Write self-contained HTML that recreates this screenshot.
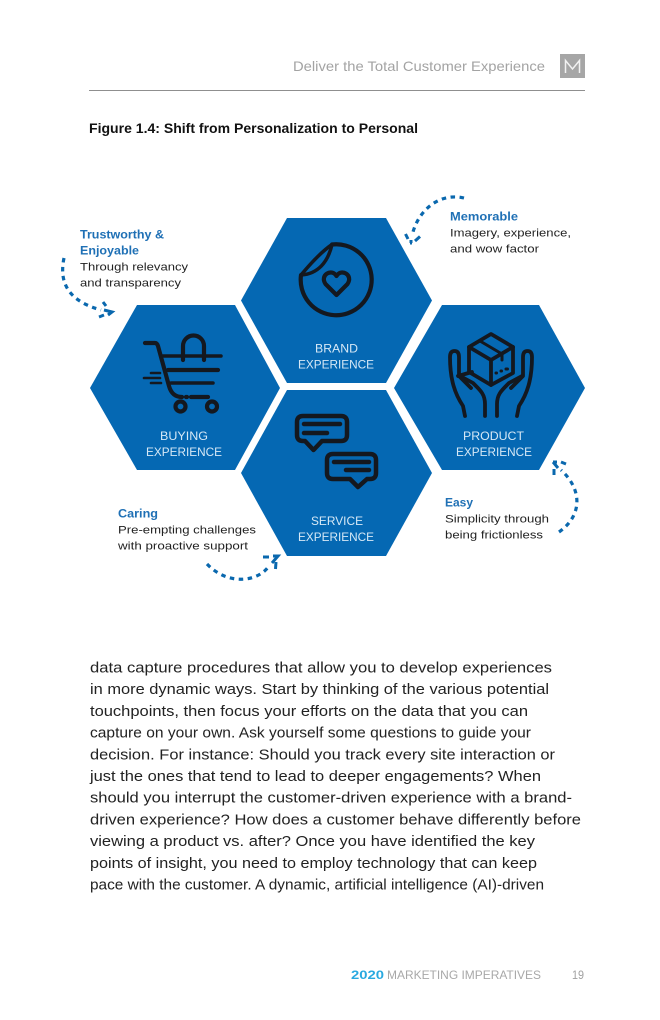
<!DOCTYPE html>
<html><head><meta charset="utf-8">
<style>
html,body{margin:0;padding:0;background:#fff;width:660px;height:1020px;overflow:hidden}
svg{display:block}
text{font-family:"Liberation Sans",sans-serif}
.lb{font-size:11.5px;fill:#d6e8f6}
.h{font-size:11.5px;font-weight:bold;fill:#1f70b5}
.t{font-size:11px;fill:#222}
.b{font-size:15px;fill:#222}
.ic{fill:none;stroke:#14181f;stroke-width:4.2;stroke-linecap:round;stroke-linejoin:round}
.d{fill:none;stroke:#0a68ae;stroke-width:3.2;stroke-dasharray:4.5 4.5}
.a{fill:none;stroke:#0a68ae;stroke-width:3}
</style></head><body>
<svg width="660" height="1020" viewBox="0 0 660 1020" xmlns="http://www.w3.org/2000/svg">
<rect width="660" height="1020" fill="#fff"/>
<text x="293" y="71" font-size="14" fill="#a3a3a3" textLength="252" lengthAdjust="spacingAndGlyphs">Deliver the Total Customer Experience</text>
<rect x="560" y="54" width="25" height="24" fill="#a6a6a6"/>
<path d="M565.500 73V60.500L572.500 69 579.500 60.500V73" fill="none" stroke="#f2f2f2" stroke-width="1.500"/>
<rect x="89" y="90" width="496" height="1" fill="#8f8f8f"/>
<text x="89" y="133" font-size="13.500" font-weight="bold" fill="#111" textLength="329" lengthAdjust="spacingAndGlyphs">Figure 1.4: Shift from Personalization to Personal</text>

<g fill="#0568b3">
<polygon points="287,218 386,218 432,300.500 386,383 287,383 241,300.500"/>
<polygon points="137,305 235,305 280,388 235,470 137,470 90,388"/>
<polygon points="442,305 539,305 585,388 539,470 442,470 394,388"/>
<polygon points="287,390 386,390 432,473 386,556 287,556 241,473"/>
</g>

<!-- sticker -->
<g class="ic">
<path d="M332 244.500A35.500 35.500 0 1 1 301 275"/>
<path d="M332 244.500C328 262 318 274 301 275C311 263 321 252 332 244.500Z" style="stroke-width:3.500"/>
<path d="M336.500 295l-11-11c-6-9 6-16 11-8c5-8 17-1 11 8Z"/>
</g>

<!-- cart -->
<g class="ic">
<path d="M145 343H155Q157 343 158 346L169 386Q172 397 182 397"/>
<path d="M186 397h1"/><path d="M191 397H208"/>
<path d="M163 356H221" style="stroke-width:3.500"/><path d="M168 370H218"/><path d="M171 383H213" style="stroke-width:3.500"/>
<path d="M151 373H160M144 378H160M151 383H161" style="stroke-width:2.600"/>
<circle cx="180.500" cy="406.500" r="5"/><circle cx="212" cy="406.500" r="5"/>
<path d="M183 360V346A10.500 10.500 0 0 1 204 346V360"/>
</g>

<!-- product -->
<g class="ic" style="stroke-width:3.800">
<path d="M491 334L513 347V373L491 385L469 372V347Z"/>
<path d="M469 347L491 360L513 347M491 360V385"/>
<path d="M480 341L502 354V360" style="stroke-width:3"/>
<path d="M496 373h.5M501 371h.5M506 369h1.500" style="stroke-width:3"/>
<path d="M465 416L463 406C455 394 450 380 450 357Q450 351 454.500 351Q459 351 459 357V376L471 388"/>
<path d="M458 376L472 372"/>
<path d="M485 416V404C485 394 480 390 473 383L460 376"/>
<path d="M517 416L519 406C527 394 532 380 532 357Q532 351 527.500 351Q523 351 523 357V376L511 388"/>
<path d="M497 416V404C497 394 502 390 509 383L522 376"/>
</g>

<!-- chats -->
<g class="ic" style="stroke-width:4.500">
<path d="M303 416H341Q347 416 347 422V435Q347 441 341 441H322L313.500 450L305 441H303Q297 441 297 435V422Q297 416 303 416Z"/>
<path d="M304 424H340M304 433H327"/>
<path d="M333 454H370Q376 454 376 460V473Q376 479 370 479H367L358 487L350 479H333Q327 479 327 473V460Q327 454 333 454Z"/>
<path d="M334 462H369M346 470H369"/>
</g>

<!-- labels in hexes -->
<text class="lb" x="315" y="352.500" textLength="43" lengthAdjust="spacingAndGlyphs">BRAND</text>
<text class="lb" x="298" y="368.500" textLength="76" lengthAdjust="spacingAndGlyphs">EXPERIENCE</text>
<text class="lb" x="160" y="440" textLength="48" lengthAdjust="spacingAndGlyphs">BUYING</text>
<text class="lb" x="146" y="456" textLength="76" lengthAdjust="spacingAndGlyphs">EXPERIENCE</text>
<text class="lb" x="463" y="440" textLength="61" lengthAdjust="spacingAndGlyphs">PRODUCT</text>
<text class="lb" x="456" y="456" textLength="76" lengthAdjust="spacingAndGlyphs">EXPERIENCE</text>
<text class="lb" x="311" y="525" textLength="52" lengthAdjust="spacingAndGlyphs">SERVICE</text>
<text class="lb" x="298" y="541" textLength="76" lengthAdjust="spacingAndGlyphs">EXPERIENCE</text>

<!-- callouts -->
<text class="h" x="80" y="238.500" textLength="84" lengthAdjust="spacingAndGlyphs">Trustworthy &amp;</text>
<text class="h" x="80" y="254.500" textLength="59" lengthAdjust="spacingAndGlyphs">Enjoyable</text>
<text class="t" x="80" y="270.500" textLength="108" lengthAdjust="spacingAndGlyphs">Through relevancy</text>
<text class="t" x="80" y="286.500" textLength="101" lengthAdjust="spacingAndGlyphs">and transparency</text>

<text class="h" x="450" y="220.500" textLength="68" lengthAdjust="spacingAndGlyphs">Memorable</text>
<text class="t" x="450" y="236.500" textLength="121" lengthAdjust="spacingAndGlyphs">Imagery, experience,</text>
<text class="t" x="450" y="252.500" textLength="89" lengthAdjust="spacingAndGlyphs">and wow factor</text>

<text class="h" x="445" y="506.500" textLength="28" lengthAdjust="spacingAndGlyphs">Easy</text>
<text class="t" x="445" y="522.500" textLength="104" lengthAdjust="spacingAndGlyphs">Simplicity through</text>
<text class="t" x="445" y="538.500" textLength="98" lengthAdjust="spacingAndGlyphs">being frictionless</text>

<text class="h" x="118" y="517.500" textLength="40" lengthAdjust="spacingAndGlyphs">Caring</text>
<text class="t" x="118" y="533.500" textLength="138" lengthAdjust="spacingAndGlyphs">Pre-empting challenges</text>
<text class="t" x="118" y="549.500" textLength="130" lengthAdjust="spacingAndGlyphs">with proactive support</text>

<!-- dashed arrows -->
<path class="d" d="M464 198C438 192 417 212 412 236"/>
<path class="a" d="M405.500 234L408 239M410 243L412 243M415 241L420 236.500M411 240v3"/>
<path class="d" d="M64 258C58 286 72 302 101 310"/>
<path class="a" d="M103 302L106 306M99 317L104 315M104 310L112 312L108 315"/>
<path class="d" d="M559 532C582 516 583 490 561 470"/>
<path class="a" d="M554 475V469M553 462L558 468M553 462H557M561 462L566 464"/>
<path class="d" d="M207 564C228 586 258 582 269 566"/>
<path class="a" d="M263 557H269M273 556L278 556L272 563M276 562L275.500 569"/>

<!-- body -->
<text class="b" x="90" y="672.500" textLength="462" lengthAdjust="spacingAndGlyphs">data capture procedures that allow you to develop experiences</text>
<text class="b" x="90" y="694.200" textLength="459" lengthAdjust="spacingAndGlyphs">in more dynamic ways. Start by thinking of the various potential</text>
<text class="b" x="90" y="715.900" textLength="438" lengthAdjust="spacingAndGlyphs">touchpoints, then focus your efforts on the data that you can</text>
<text class="b" x="90" y="737.600" textLength="441" lengthAdjust="spacingAndGlyphs">capture on your own. Ask yourself some questions to guide your</text>
<text class="b" x="90" y="759.300" textLength="465" lengthAdjust="spacingAndGlyphs">decision. For instance: Should you track every site interaction or</text>
<text class="b" x="90" y="781" textLength="451" lengthAdjust="spacingAndGlyphs">just the ones that tend to lead to deeper engagements? When</text>
<text class="b" x="90" y="802.700" textLength="482" lengthAdjust="spacingAndGlyphs">should you interrupt the customer-driven experience with a brand-</text>
<text class="b" x="90" y="824.400" textLength="491" lengthAdjust="spacingAndGlyphs">driven experience? How does a customer behave differently before</text>
<text class="b" x="90" y="846.100" textLength="445" lengthAdjust="spacingAndGlyphs">viewing a product vs. after? Once you have identified the key</text>
<text class="b" x="90" y="867.800" textLength="447" lengthAdjust="spacingAndGlyphs">points of insight, you need to employ technology that can keep</text>
<text class="b" x="90" y="889.500" textLength="454" lengthAdjust="spacingAndGlyphs">pace with the customer. A dynamic, artificial intelligence (AI)-driven</text>

<!-- footer -->
<text x="351" y="979" font-size="12" font-weight="bold" fill="#29a9e0" textLength="33" lengthAdjust="spacingAndGlyphs">2020</text>
<text x="387" y="979" font-size="12" fill="#a8a8a8" textLength="154" lengthAdjust="spacingAndGlyphs">MARKETING IMPERATIVES</text>
<text x="572" y="979" font-size="12" fill="#a0a0a0" textLength="12" lengthAdjust="spacingAndGlyphs">19</text>
</svg>
</body></html>
